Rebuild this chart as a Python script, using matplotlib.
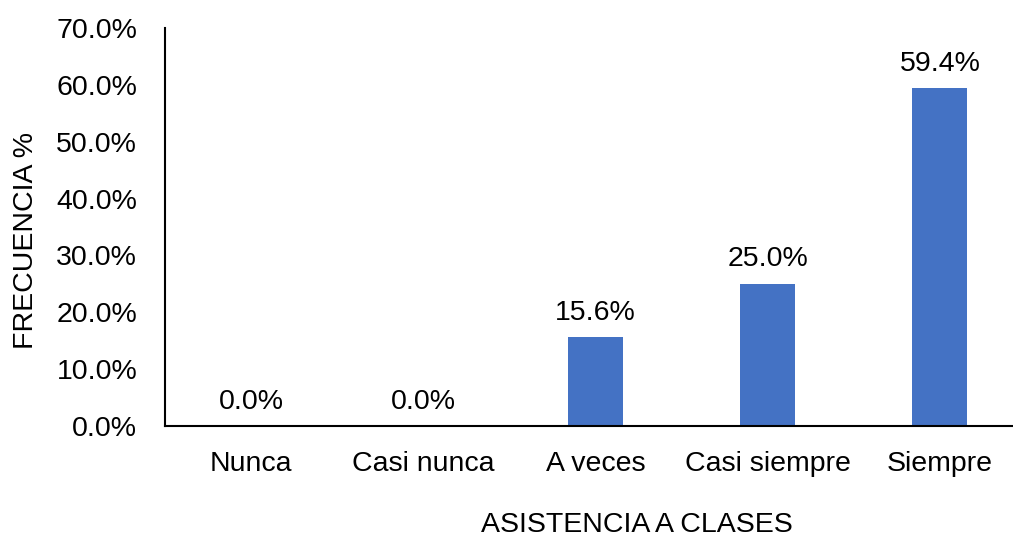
import matplotlib
matplotlib.use('Agg')
import matplotlib.pyplot as plt
from matplotlib.ticker import FuncFormatter

plt.rcParams['font.family'] = ['Liberation Sans', 'DejaVu Sans']

categories = ['Nunca', 'Casi nunca', 'A veces', 'Casi siempre', 'Siempre']
values = [0.0, 0.0, 15.6, 25.0, 59.4]

fs = 20.5
fig = plt.figure(figsize=(10.13, 5.36), dpi=100)
ax = fig.add_axes([165 / 1013, 1 - 426 / 536, (1026 - 165) / 1013, (426 - 28) / 536])

x = range(len(categories))
ax.bar(x, values, width=0.32, color='#4472C4')
for xi, v in zip(x, values):
    ax.text(xi, v + 2.0, f'{v:.1f}%', ha='center', va='bottom', fontsize=fs)

ax.set_xlim(-0.5, 4.5)
ax.set_ylim(0, 70)
ax.set_yticks(range(0, 71, 10))
ax.yaxis.set_major_formatter(FuncFormatter(lambda v, p: f'{v:.1f}%'))
ax.set_xticks(list(x))
ax.set_xticklabels(categories)
ax.tick_params(length=0, labelsize=fs)
ax.tick_params(axis='x', pad=18)
ax.tick_params(axis='y', pad=20)

for s in ['top', 'right']:
    ax.spines[s].set_visible(False)
for s in ['left', 'bottom']:
    ax.spines[s].set_linewidth(1.5)
    ax.spines[s].set_color('black')

ax.set_xlabel('ASISTENCIA A CLASES', fontsize=fs)
ax.xaxis.set_label_coords(0.548, -0.215)
ax.set_ylabel('FRECUENCIA %', fontsize=fs)
ax.yaxis.set_label_coords(-0.146, 0.467)

fig.savefig('out.png', dpi=100)
